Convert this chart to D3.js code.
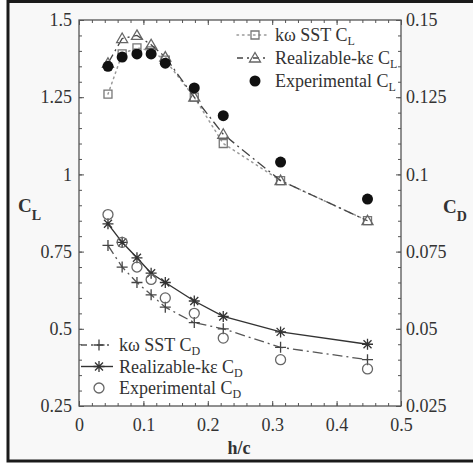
<!DOCTYPE html>
<html>
<head>
<meta charset="utf-8">
<script src="https://cdn.jsdelivr.net/npm/d3@7"></script>
<style>
body { margin: 0; background: #fff; }
svg text { font-family: 'Liberation Serif', 'Times New Roman', 'DejaVu Serif', serif; fill: #333; }
</style>
</head>
<body>
<svg id="svg1" width="473" height="465" font-family="Liberation Serif, DejaVu Serif, serif"></svg>
<script>
// h/c positions
var hc = [0.045, 0.067, 0.09, 0.112, 0.134, 0.179, 0.224, 0.313, 0.448];

// lift coefficient (left axis)
var clSST = [1.26, 1.39, 1.41, 1.40, 1.37, 1.25, 1.10, 0.98, 0.85];
var clRKE = [1.36, 1.44, 1.45, 1.42, 1.38, 1.25, 1.13, 0.98, 0.85];
var clExp = [1.35, 1.38, 1.39, 1.39, 1.36, 1.28, 1.19, 1.04, 0.92];

// drag coefficient (right axis)
var cdSST = [0.077, 0.070, 0.065, 0.061, 0.057, 0.052, 0.050, 0.044, 0.040];
var cdRKE = [0.084, 0.078, 0.073, 0.068, 0.065, 0.059, 0.054, 0.049, 0.045];
var cdExp = [0.087, 0.078, 0.070, 0.066, 0.060, 0.055, 0.047, 0.040, 0.037];

var xTicks = [0, 0.1, 0.2, 0.3, 0.4, 0.5];
var clTicks = [0.25, 0.5, 0.75, 1, 1.25, 1.5];
var cdTicks = [0.025, 0.05, 0.075, 0.1, 0.125, 0.15];

var margin = {left: 79, right: 72, top: 20, bottom: 59};
var width = 473 - margin.left - margin.right;
var height = 465 - margin.top - margin.bottom;
var serif = "'Liberation Serif', 'Times New Roman', 'DejaVu Serif', serif";

var svgRoot = d3.select('#svg1');

// outer frame
svgRoot.append('rect')
  .attr('x', 8).attr('y', 1.5)
  .attr('width', 520).attr('height', 459.5)
  .attr('fill', '#f8f8f8')
  .attr('stroke', '#1a1a1a')
  .attr('stroke-width', 3);

var svg = svgRoot.append('g')
  .attr('transform', 'translate(' + margin.left + ',' + margin.top + ')');

var x = d3.scaleLinear().domain([0, 0.5]).range([0, width]);
var yL = d3.scaleLinear().domain([0.25, 1.5]).range([height, 0]);
var yR = d3.scaleLinear().domain([0.025, 0.15]).range([height, 0]);

svg.append('rect')
  .attr('width', width).attr('height', height)
  .attr('fill', '#fff');

function styleAxis(g) {
  g.attr('font-family', serif);
  g.select('.domain').remove();
  g.selectAll('line').attr('stroke', '#555');
  g.selectAll('text').attr('font-size', 18).attr('fill', '#333').style('font-family', serif);
}

// minor ticks
var xMinor = d3.range(0, 0.5001, 0.02);
var lMinor = d3.range(0.25, 1.5001, 0.05);
var rMinor = d3.range(0.025, 0.15001, 0.005);

svg.append('g').attr('transform', 'translate(0,' + height + ')')
  .call(d3.axisBottom(x).tickValues(xMinor).tickSize(-3).tickFormat(''))
  .call(styleAxis);
svg.append('g')
  .call(d3.axisTop(x).tickValues(xMinor).tickSize(-3).tickFormat(''))
  .call(styleAxis);
svg.append('g')
  .call(d3.axisLeft(yL).tickValues(lMinor).tickSize(-3).tickFormat(''))
  .call(styleAxis);
svg.append('g').attr('transform', 'translate(' + width + ',0)')
  .call(d3.axisRight(yR).tickValues(rMinor).tickSize(-3).tickFormat(''))
  .call(styleAxis);

// major ticks
svg.append('g').attr('transform', 'translate(0,' + height + ')')
  .call(d3.axisBottom(x).tickValues(xTicks).tickSize(-5).tickPadding(12).tickFormat(function(d) { return d; }))
  .call(styleAxis);
svg.append('g')
  .call(d3.axisTop(x).tickValues(xTicks).tickSize(-5).tickFormat(''))
  .call(styleAxis);
svg.append('g')
  .call(d3.axisLeft(yL).tickValues(clTicks).tickSize(-5).tickPadding(7).tickFormat(function(d) { return d; }))
  .call(styleAxis);
svg.append('g').attr('transform', 'translate(' + width + ',0)')
  .call(d3.axisRight(yR).tickValues(cdTicks).tickSize(-5).tickPadding(5).tickFormat(function(d) { return d; }))
  .call(styleAxis);

svg.append('rect')
  .attr('width', width).attr('height', height)
  .attr('fill', 'none')
  .attr('stroke', '#555')
  .attr('stroke-width', 1.3);

// axis titles
svg.append('text')
  .attr('x', width / 2 - 1).attr('y', height + 48)
  .attr('text-anchor', 'middle')
  .style('font-family', serif)
  .attr('font-size', 18).attr('font-weight', 'bold')
  .text('h/c');

function subLabel(t, main, sub, size, subSize, shift) {
  t.style('font-family', serif);
  t.append('tspan').attr('font-size', size).text(main);
  t.append('tspan').attr('font-size', subSize).attr('dy', shift).text(sub);
  return t;
}

subLabel(svg.append('text').attr('x', -61).attr('y', 192).attr('font-weight', 'bold'), 'C', 'L', 19, 14, 8);
subLabel(svg.append('text').attr('x', width + 42).attr('y', 193).attr('font-weight', 'bold'), 'C', 'D', 19, 14, 8);

// markers
var shapes = {
  square: 'M-4,-4h8v8h-8z',
  triangle: 'M0,-5.5L5.5,4L-5.5,4Z',
  plus: 'M-5.5,0H5.5M0,-5.5V5.5',
  asterisk: 'M-5.5,0H5.5M0,-5.5V5.5M-4,-4L4,4M-4,4L4,-4'
};

function drawMarker(g, kind, color) {
  if (kind == 'dot') {
    g.append('circle').attr('r', 5.5).attr('fill', '#111');
  } else if (kind == 'circle') {
    g.append('circle').attr('r', 5).attr('fill', 'none').attr('stroke', color).attr('stroke-width', 1.3);
  } else {
    g.append('path').attr('d', shapes[kind]).attr('fill', 'none').attr('stroke', color).attr('stroke-width', 1.3);
  }
}

var series = [
  {vals: clSST, y: yL, marker: 'square', color: '#777', dash: '1.5,4', lineColor: '#999', width: 1.5},
  {vals: clRKE, y: yL, marker: 'triangle', color: '#666', dash: '10,4,2,4', lineColor: '#444', width: 1.3},
  {vals: clExp, y: yL, marker: 'dot', color: '#111', dash: null},
  {vals: cdSST, y: yR, marker: 'plus', color: '#444', dash: '10,4,2,4', lineColor: '#555', width: 1.3},
  {vals: cdRKE, y: yR, marker: 'asterisk', color: '#333', dash: '', lineColor: '#333', width: 1.4},
  {vals: cdExp, y: yR, marker: 'circle', color: '#666', dash: null}
];

series.forEach(function(s) {
  var pts = s.vals.map(function(v, i) { return {x: hc[i], v: v}; });
  if (s.dash !== null) {
    var line = d3.line()
      .x(function(d) { return x(d.x); })
      .y(function(d) { return s.y(d.v); });
    svg.append('path')
      .attr('d', line(pts))
      .attr('fill', 'none')
      .attr('stroke', s.lineColor)
      .attr('stroke-width', s.width)
      .attr('stroke-dasharray', s.dash || null)
      .attr('stroke-linecap', s.dash == '1.5,4' ? 'round' : 'butt');
  }
  svg.selectAll(null)
    .data(pts)
    .enter()
    .append('g')
      .attr('transform', function(d) { return 'translate(' + x(d.x) + ',' + s.y(d.v) + ')'; })
    .each(function() { drawMarker(d3.select(this), s.marker, s.color); });
});

// legends
var legendTop = [
  {main: 'kω SST C', sub: 'L', s: series[0]},
  {main: 'Realizable-kε C', sub: 'L', s: series[1]},
  {main: 'Experimental C', sub: 'L', s: series[2]}
];
var legendBottom = [
  {main: 'kω SST C', sub: 'D', s: series[3]},
  {main: 'Realizable-kε C', sub: 'D', s: series[4]},
  {main: 'Experimental C', sub: 'D', s: series[5]}
];

function drawLegend(items, x0, y0, step) {
  items.forEach(function(it, i) {
    var g = svg.append('g').attr('transform', 'translate(' + x0 + ',' + (y0 + i * step) + ')');
    if (it.s.dash !== null) {
      g.append('line')
        .attr('x1', 0).attr('x2', 32)
        .attr('stroke', it.s.lineColor)
        .attr('stroke-width', it.s.width)
        .attr('stroke-dasharray', it.s.dash == '10,4,2,4' ? '6,4,2,4' : (it.s.dash || null))
        .attr('stroke-linecap', it.s.dash == '1.5,4' ? 'round' : 'butt');
    }
    var m = g.append('g').attr('transform', 'translate(18,0)');
    drawMarker(m, it.s.marker, it.s.color);
    subLabel(g.append('text').attr('x', 38).attr('y', 6), it.main, it.sub, 18, 12, 4);
  });
}

drawLegend(legendTop, 237 - margin.left, 35 - margin.top, 23);
drawLegend(legendBottom, 81 - margin.left, 345 - margin.top, 21.5);
</script>
</body>
</html>
